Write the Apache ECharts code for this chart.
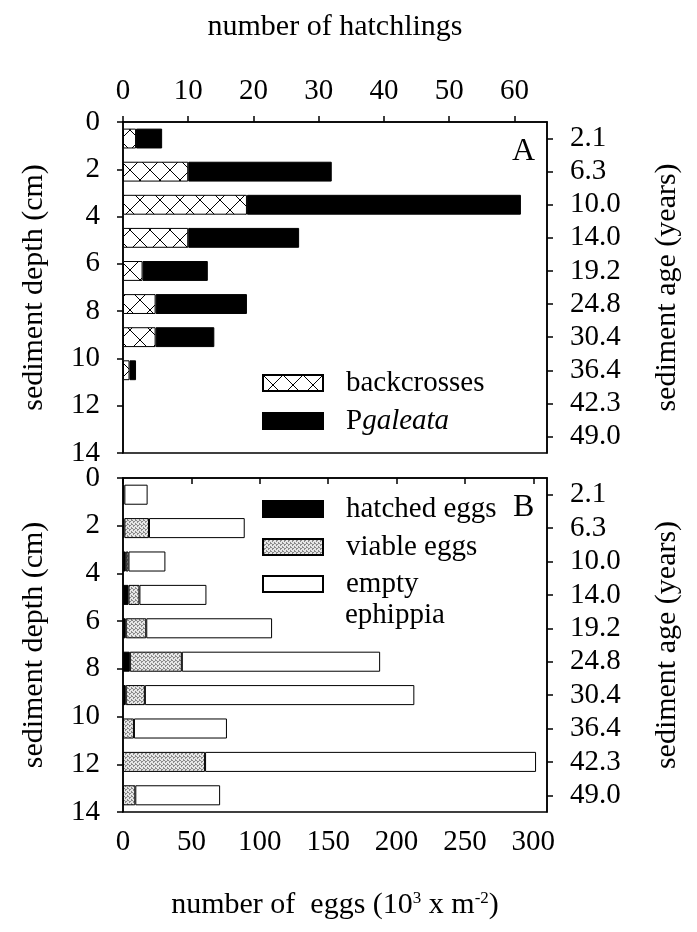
<!DOCTYPE html>
<html><head><meta charset="utf-8">
<script src="https://cdn.jsdelivr.net/npm/echarts/dist/echarts.min.js"></script>
<style>html,body{margin:0;padding:0;background:#fff}#c{width:697px;height:932px}</style>
</head><body><div id="c"></div>
<script>
// ---- data ----
const ages = ['2.1','6.3','10.0','14.0','19.2','24.8','30.4','36.4','42.3','49.0'];
const backcrosses = [2,10,19,10,3,5,5,1,0,0];
const pGaleata = [4,22,42,17,10,14,9,1,0,0];
const hatchedEggs = [1,1,2,4,2,5,2,0,0,0];
const viableEggs = [0,18,2,8,15,38,14,8,60,9];
const emptyEphippia = [17,70,27,49,92,145,197,68,242,62];

const FONT = '"Liberation Serif","Times New Roman",serif';
const TICK = 29, TITLE = 30, LEG = 29;

function crossPattern(){
  const c=document.createElement('canvas'); c.width=20; c.height=20;
  const g=c.getContext('2d'); g.fillStyle='#fff'; g.fillRect(0,0,20,20);
  g.strokeStyle='#000'; g.lineWidth=1;
  g.beginPath(); g.moveTo(0,0); g.lineTo(20,20); g.moveTo(20,0); g.lineTo(0,20); g.stroke();
  return c;
}
function stipple(){
  const c=document.createElement('canvas'); c.width=4; c.height=4;
  const g=c.getContext('2d'); g.fillStyle='#e6e6e6'; g.fillRect(0,0,4,4);
  g.fillStyle='#8a8a8a';
  [[0,0],[2,1],[1,2],[3,3],[3,0],[1,1]].forEach(p=>g.fillRect(p[0],p[1],1,1));
  return c;
}
const nz = a => a.map(v => v === 0 ? '-' : v);

const chart = echarts.init(document.getElementById('c'));
const tickStyle = {show:true, inside:false, length:6, lineStyle:{color:'#000', width:1.5}};
const lineStyle = {show:true, lineStyle:{color:'#000', width:1.5}};
const lbl = (m) => ({color:'#000', fontFamily:FONT, fontSize:TICK, margin:m});
const nameStyle = {color:'#000', fontFamily:FONT, fontSize:TITLE};

const legendBase = (name, left, top, extra) => Object.assign({
  data:[name], left:left, top:top, padding:0, orient:'vertical', icon:'rect',
  itemWidth:60, itemHeight:16, selectedMode:false,
  textStyle:{color:'#000', fontFamily:FONT, fontSize:LEG, lineHeight:30, padding:[0,0,0,18]}
}, extra||{});

const barItem = (color) => ({color:color, borderColor:'#000', borderWidth:1});

const catAxis = (grid) => ({gridIndex:grid, type:'category', position:'right', inverse:true, data:ages,
  axisLine:lineStyle, axisTick:Object.assign({alignWithLabel:true, interval:0}, tickStyle),
  axisLabel:Object.assign(lbl(23), {interval:0}),
  name:'sediment age (years)', nameLocation:'middle', nameRotate:90, nameGap:105, nameTextStyle:nameStyle});
const depthAxis = (grid) => ({gridIndex:grid, type:'value', position:'left', inverse:true, min:0, max:14, interval:2,
  axisLine:lineStyle, axisTick:tickStyle, splitLine:{show:false}, axisLabel:lbl(23),
  name:'sediment depth (cm)', nameLocation:'middle', nameRotate:90, nameGap:74, nameTextStyle:nameStyle});

chart.setOption({
  animation:false,
  backgroundColor:'#fff',
  grid:[
    {left:123, top:122, width:424, height:331, show:true, borderColor:'#000', borderWidth:1.5},
    {left:123, top:478, width:424, height:334, show:true, borderColor:'#000', borderWidth:1.5}
  ],
  xAxis:[
    {gridIndex:0, type:'value', position:'top', min:0, max:65, interval:10,
     axisLine:lineStyle, axisTick:tickStyle, splitLine:{show:false},
     axisLabel:Object.assign(lbl(16), {showMaxLabel:false}),
     name:'number of hatchlings', nameLocation:'middle', nameGap:80, nameTextStyle:nameStyle},
    {gridIndex:1, type:'value', position:'bottom', min:0, max:310, interval:50,
     axisLine:lineStyle, axisTick:tickStyle, splitLine:{show:false},
     axisLabel:Object.assign(lbl(16), {showMaxLabel:false}),
     name:'{n|number of  eggs (10}{s|3}{n| x m}{s|-2}{n|)}', nameLocation:'middle', nameGap:78,
     nameTextStyle:{rich:{n:{fontFamily:FONT, fontSize:TITLE, color:'#000'},
                          s:{fontFamily:FONT, fontSize:17, color:'#000', verticalAlign:'top'}}}}
  ],
  yAxis:[ depthAxis(0), catAxis(0), depthAxis(1), catAxis(1) ],
  legend:[
    legendBase('backcrosses', 262, 368),
    legendBase('Pgaleata', 262, 406, {formatter:()=>'{n|P}{i|galeata}',
      textStyle:{color:'#000', fontFamily:FONT, fontSize:LEG, lineHeight:30, padding:[0,0,0,18],
        rich:{n:{fontFamily:FONT, fontSize:LEG, color:'#000'}, i:{fontFamily:FONT, fontSize:LEG, fontStyle:'italic', color:'#000'}}}}),
    legendBase('hatched eggs', 262, 494),
    legendBase('viable eggs', 262, 532),
    legendBase('empty', 262, 569)
  ],
  graphic:[
    {type:'text', x:512, y:152, style:{text:'A', font:'32px '+FONT, fill:'#000', verticalAlign:'middle'}},
    {type:'text', x:513, y:508, style:{text:'B', font:'32px '+FONT, fill:'#000', verticalAlign:'middle'}},
    {type:'text', x:345, y:615, style:{text:'ephippia', font:LEG+'px '+FONT, fill:'#000', verticalAlign:'middle'}}
  ],
  series:[
    {name:'backcrosses', type:'bar', xAxisIndex:0, yAxisIndex:1, stack:'A', barWidth:'60%',
     data:nz(backcrosses), itemStyle:barItem({image:crossPattern(), repeat:'repeat'})},
    {name:'Pgaleata', type:'bar', xAxisIndex:0, yAxisIndex:1, stack:'A', barWidth:'60%',
     data:nz(pGaleata), itemStyle:barItem('#000')},
    {name:'hatched eggs', type:'bar', xAxisIndex:1, yAxisIndex:3, stack:'B', barWidth:'60%',
     data:nz(hatchedEggs), itemStyle:barItem('#000')},
    {name:'viable eggs', type:'bar', xAxisIndex:1, yAxisIndex:3, stack:'B', barWidth:'60%',
     data:nz(viableEggs), itemStyle:barItem({image:stipple(), repeat:'repeat'})},
    {name:'empty', type:'bar', xAxisIndex:1, yAxisIndex:3, stack:'B', barWidth:'60%',
     data:nz(emptyEphippia), itemStyle:barItem('#fff')}
  ]
});
</script></body></html>
